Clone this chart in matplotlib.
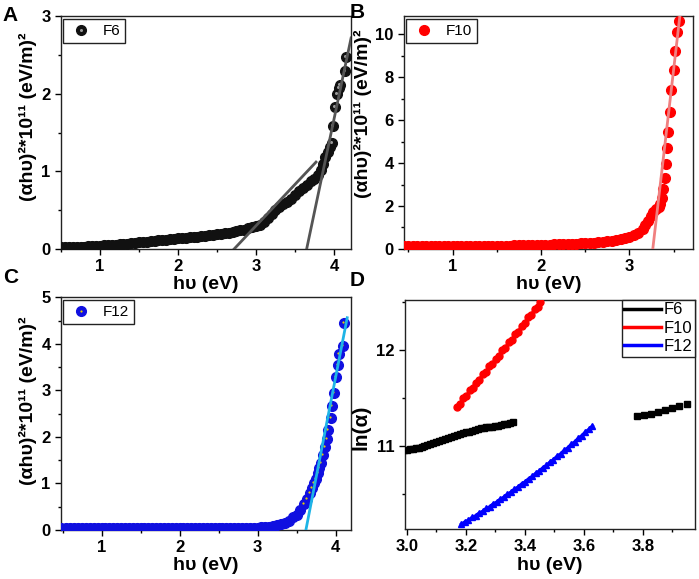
import matplotlib
matplotlib.use("Agg")
import matplotlib.pyplot as plt
from matplotlib.lines import Line2D
from matplotlib.legend_handler import HandlerTuple
from matplotlib.ticker import MultipleLocator
from matplotlib.transforms import offset_copy

plt.rcParams['font.family'] = ['Liberation Sans', 'DejaVu Sans']

# ---- panel A : F6 ----
f6_x = [0.50, 0.55, 0.60, 0.65, 0.70, 0.75, 0.80, 0.85, 0.90, 0.95,
        1.00, 1.05, 1.10, 1.15, 1.20, 1.25, 1.30, 1.35, 1.40, 1.45,
        1.50, 1.55, 1.60, 1.65, 1.70, 1.75, 1.80, 1.85, 1.90, 1.95,
        2.00, 2.05, 2.10, 2.15, 2.20, 2.25, 2.30, 2.35, 2.40, 2.45,
        2.50, 2.55, 2.60, 2.65, 2.70, 2.75, 2.80, 2.85, 2.90, 2.95,
        3.00, 3.05, 3.10, 3.15, 3.20, 3.25, 3.30, 3.35, 3.40, 3.45,
        3.50, 3.55, 3.60, 3.65, 3.70, 3.75, 3.79, 3.83, 3.86, 3.89,
        3.92, 3.95, 3.97, 3.99, 4.01, 4.04, 4.06, 4.08, 4.14, 4.16]
f6_y = [0.020, 0.020, 0.020, 0.025, 0.025, 0.030, 0.030, 0.035, 0.035, 0.040,
        0.040, 0.045, 0.050, 0.050, 0.055, 0.060, 0.065, 0.070, 0.075, 0.080,
        0.085, 0.090, 0.095, 0.100, 0.105, 0.110, 0.115, 0.120, 0.125, 0.130,
        0.135, 0.140, 0.145, 0.150, 0.155, 0.160, 0.165, 0.170, 0.175, 0.180,
        0.190, 0.195, 0.200, 0.210, 0.220, 0.230, 0.240, 0.250, 0.265, 0.280,
        0.290, 0.310, 0.350, 0.400, 0.450, 0.500, 0.540, 0.580, 0.610, 0.640,
        0.700, 0.750, 0.790, 0.830, 0.870, 0.900, 0.950, 1.020, 1.100, 1.180,
        1.250, 1.320, 1.370, 1.580, 1.830, 2.000, 2.080, 2.110, 2.300, 2.480]
f6_fit1_x = [2.72, 3.77]
f6_fit1_y = [0.0, 1.12]
f6_fit2_x = [3.65, 4.22]
f6_fit2_y = [0.0, 2.72]

# ---- panel B : F10 ----
f10_x = [0.45, 0.50, 0.55, 0.60, 0.65, 0.70, 0.75, 0.80, 0.85, 0.90, 0.95,
         1.00, 1.05, 1.10, 1.15, 1.20, 1.25, 1.30, 1.35, 1.40, 1.45,
         1.50, 1.55, 1.60, 1.65, 1.70, 1.75, 1.80, 1.85, 1.90, 1.95,
         2.00, 2.05, 2.10, 2.15, 2.20, 2.25, 2.30, 2.35, 2.40, 2.45,
         2.50, 2.55, 2.60, 2.65, 2.70, 2.75, 2.80, 2.85, 2.90, 2.95,
         3.00, 3.05, 3.10, 3.15, 3.18, 3.21, 3.24, 3.27, 3.30, 3.33,
         3.35, 3.37, 3.38, 3.405, 3.42, 3.43, 3.44, 3.46, 3.475, 3.50,
         3.52, 3.54, 3.565]
f10_y = [0.12, 0.12, 0.12, 0.12, 0.12, 0.12, 0.13, 0.13, 0.13, 0.13, 0.13,
         0.13, 0.13, 0.14, 0.14, 0.14, 0.14, 0.14, 0.15, 0.15, 0.15,
         0.15, 0.16, 0.16, 0.16, 0.17, 0.17, 0.17, 0.18, 0.18, 0.19,
         0.19, 0.20, 0.20, 0.21, 0.21, 0.22, 0.23, 0.24, 0.25, 0.26,
         0.28, 0.29, 0.30, 0.32, 0.34, 0.36, 0.38, 0.41, 0.45, 0.50,
         0.55, 0.63, 0.75, 0.92, 1.10, 1.30, 1.52, 1.72, 1.85, 1.97,
         2.10, 2.37, 2.79, 3.30, 3.95, 4.70, 5.44, 6.37, 7.40, 8.33,
         9.22, 10.09, 10.62]
f10_fit_x = [3.265, 3.57]
f10_fit_y = [0.0, 10.8]

# ---- panel C : F12 ----
f12_x = [0.48, 0.55, 0.60, 0.65, 0.70, 0.75, 0.80, 0.85, 0.90, 0.95,
         1.00, 1.05, 1.10, 1.15, 1.20, 1.25, 1.30, 1.35, 1.40, 1.45,
         1.50, 1.55, 1.60, 1.65, 1.70, 1.75, 1.80, 1.85, 1.90, 1.95,
         2.00, 2.05, 2.10, 2.15, 2.20, 2.25, 2.30, 2.35, 2.40, 2.45,
         2.50, 2.55, 2.60, 2.65, 2.70, 2.75, 2.80, 2.85, 2.90, 2.95,
         3.00, 3.05, 3.10, 3.15, 3.20, 3.25, 3.30, 3.35, 3.40, 3.45,
         3.50, 3.55, 3.60, 3.64, 3.67, 3.70, 3.73, 3.75, 3.77, 3.79,
         3.81, 3.84, 3.86, 3.89, 3.91, 3.94, 3.96, 3.98, 4.00, 4.03,
         4.04, 4.09, 4.11]
f12_y = [0.05, 0.05, 0.05, 0.05, 0.05, 0.05, 0.05, 0.05, 0.05, 0.05,
         0.05, 0.05, 0.05, 0.05, 0.05, 0.05, 0.05, 0.05, 0.05, 0.05,
         0.05, 0.05, 0.05, 0.05, 0.05, 0.05, 0.05, 0.05, 0.05, 0.05,
         0.05, 0.05, 0.05, 0.05, 0.05, 0.05, 0.05, 0.05, 0.05, 0.05,
         0.05, 0.05, 0.05, 0.05, 0.05, 0.05, 0.05, 0.05, 0.05, 0.05,
         0.05, 0.055, 0.06, 0.07, 0.08, 0.10, 0.12, 0.16, 0.20, 0.27,
         0.33, 0.42, 0.55, 0.67, 0.79, 0.90, 1.00, 1.10, 1.22, 1.33,
         1.43, 1.61, 1.79, 1.95, 2.15, 2.40, 2.67, 2.95, 3.28, 3.55,
         3.78, 3.95, 4.45]
f12_fit_x = [3.62, 4.15]
f12_fit_y = [0.0, 4.56]

# ---- panel D : ln(alpha) ----
d6_x = [2.99, 3.00, 3.01, 3.02, 3.03, 3.04, 3.05, 3.06, 3.07, 3.08,
        3.09, 3.10, 3.11, 3.12, 3.13, 3.14, 3.15, 3.16, 3.17, 3.18,
        3.19, 3.20, 3.21, 3.22, 3.23, 3.24, 3.25, 3.26, 3.27, 3.28,
        3.29, 3.30, 3.31, 3.32, 3.33, 3.34, 3.35, 3.36,
        3.781, 3.804, 3.828, 3.851, 3.876, 3.898, 3.923, 3.948]
d6_y = [10.960, 10.965, 10.970, 10.975, 10.980, 10.985, 10.990, 11.000, 11.010, 11.020,
        11.035, 11.045, 11.055, 11.065, 11.075, 11.085, 11.095, 11.105, 11.115, 11.125,
        11.135, 11.145, 11.150, 11.160, 11.170, 11.180, 11.185, 11.190, 11.195, 11.200,
        11.205, 11.210, 11.215, 11.220, 11.230, 11.235, 11.240, 11.250,
        11.310, 11.320, 11.340, 11.360, 11.380, 11.400, 11.420, 11.440]
d10_x = [3.170, 3.180, 3.191, 3.202, 3.213, 3.224, 3.235, 3.246, 3.257, 3.268,
         3.279, 3.290, 3.301, 3.312, 3.323, 3.334, 3.345, 3.356, 3.367, 3.378,
         3.389, 3.400, 3.411, 3.422, 3.433, 3.444, 3.451]
d10_y = [11.41, 11.44, 11.50, 11.52, 11.58, 11.60, 11.66, 11.69, 11.75, 11.77,
         11.83, 11.85, 11.91, 11.94, 12.00, 12.02, 12.08, 12.10, 12.17, 12.19,
         12.25, 12.28, 12.34, 12.36, 12.43, 12.45, 12.50]
d12_x = [3.185, 3.197, 3.209, 3.221, 3.233, 3.245, 3.257, 3.269, 3.281, 3.293,
         3.305, 3.317, 3.329, 3.341, 3.353, 3.365, 3.377, 3.389, 3.401, 3.413,
         3.425, 3.437, 3.449, 3.461, 3.473, 3.485, 3.497, 3.509, 3.521, 3.533,
         3.545, 3.557, 3.569, 3.581, 3.593, 3.605, 3.617, 3.629]
d12_y = [10.190, 10.215, 10.232, 10.260, 10.278, 10.306, 10.324, 10.353, 10.372, 10.402,
         10.421, 10.452, 10.472, 10.503, 10.524, 10.555, 10.577, 10.609, 10.631, 10.663,
         10.686, 10.720, 10.743, 10.777, 10.801, 10.836, 10.861, 10.896, 10.921, 10.957,
         10.983, 11.020, 11.046, 11.083, 11.111, 11.148, 11.176, 11.212]

fig = plt.figure(figsize=(6.99, 5.79), dpi=100)
ax_a = fig.add_axes([0.0873, 0.570, 0.415, 0.402])
ax_b = fig.add_axes([0.578, 0.570, 0.4134, 0.402])
ax_c = fig.add_axes([0.0873, 0.0846, 0.415, 0.402])
ax_d = fig.add_axes([0.579, 0.0864, 0.415, 0.3955])

ylab = '(αhυ)²*10¹¹ (eV/m)²'


def style(ax):
    for s in ax.spines.values():
        s.set_linewidth(1.0)
        s.set_color('#222222')
    ax.tick_params(which='major', direction='out', length=4, width=1,
                   labelsize=12, top=False, right=False)
    ax.tick_params(which='minor', direction='out', length=2.5, width=1,
                   top=False, right=False)
    for lab in ax.get_xticklabels() + ax.get_yticklabels():
        lab.set_fontweight('bold')


def spheres(ax, x, y, color, hi, ms, hs, hi_from):
    # dark ball for every point, small highlight only where points stand apart
    ax.plot(x, y, 'o', color=color, ms=ms, mec=color, zorder=3)
    hx = [a for a in x if a >= hi_from]
    hy = [b for a, b in zip(x, y) if a >= hi_from]
    tr = offset_copy(ax.transData, fig=fig, x=-1.0, y=1.0, units='dots')
    ax.plot(hx, hy, 'o', color=hi, ms=hs, mec='none', transform=tr, zorder=4)
    h1 = Line2D([], [], ls='none', marker='o', color=color, ms=ms)
    h2 = Line2D([], [], ls='none', marker='o', color=hi, ms=hs, mec='none')
    return (h1, h2)


leg_kw = dict(loc='upper left', fontsize=11, fancybox=False, edgecolor='#222222',
              framealpha=1, handlelength=1.6, handletextpad=0.6, borderaxespad=0.15,
              borderpad=0.35, handler_map={tuple: HandlerTuple(ndivide=1)})

# A
h = spheres(ax_a, f6_x, f6_y, '#111111', '#9a9a9a', 7, 2.2, 3.96)
ax_a.plot(f6_fit1_x, f6_fit1_y, color='#555555', lw=2, zorder=5)
ax_a.plot(f6_fit2_x, f6_fit2_y, color='#555555', lw=2, zorder=5)
ax_a.set_xlim(0.5, 4.22)
ax_a.set_ylim(0, 3)
ax_a.xaxis.set_major_locator(MultipleLocator(1))
ax_a.xaxis.set_minor_locator(MultipleLocator(0.5))
ax_a.yaxis.set_major_locator(MultipleLocator(1))
ax_a.yaxis.set_minor_locator(MultipleLocator(0.5))
ax_a.legend([h], ['F6'], **leg_kw)
ax_a.set_xlabel('hυ (eV)', fontsize=14, fontweight='bold', labelpad=1)
ax_a.set_ylabel(ylab, fontsize=14, fontweight='bold', labelpad=3)
ax_a.yaxis.label.set_y(0.57)

# B
ax_b.plot(f10_x, f10_y, 'o', color='#ff0000', ms=7, zorder=3)
ax_b.plot(f10_fit_x, f10_fit_y, color='#f08080', lw=2, zorder=4)
ax_b.set_xlim(0.45, 3.72)
ax_b.set_ylim(0, 10.84)
ax_b.xaxis.set_major_locator(MultipleLocator(1))
ax_b.xaxis.set_minor_locator(MultipleLocator(0.5))
ax_b.yaxis.set_major_locator(MultipleLocator(2))
ax_b.yaxis.set_minor_locator(MultipleLocator(1))
ax_b.legend([Line2D([], [], ls='none', marker='o', color='#ff0000', ms=7)], ['F10'], **leg_kw)
ax_b.set_xlabel('hυ (eV)', fontsize=14, fontweight='bold', labelpad=1)
ax_b.set_ylabel(ylab, fontsize=14, fontweight='bold', labelpad=2)
ax_b.yaxis.label.set_y(0.58)

# C
h = spheres(ax_c, f12_x, f12_y, '#1010e0', '#e8d000', 7, 1.6, 3.6)
ax_c.plot(f12_fit_x, f12_fit_y, color='#1eb4e6', lw=2, zorder=5)
ax_c.set_xlim(0.48, 4.2)
ax_c.set_ylim(0, 5)
ax_c.xaxis.set_major_locator(MultipleLocator(1))
ax_c.xaxis.set_minor_locator(MultipleLocator(0.5))
ax_c.yaxis.set_major_locator(MultipleLocator(1))
ax_c.yaxis.set_minor_locator(MultipleLocator(0.5))
ax_c.legend([h], ['F12'], **leg_kw)
ax_c.set_xlabel('hυ (eV)', fontsize=14, fontweight='bold', labelpad=1)
ax_c.set_ylabel(ylab, fontsize=14, fontweight='bold', labelpad=3)
ax_c.yaxis.label.set_y(0.555)

# D
ax_d.plot(d6_x, d6_y, 's', color='#000000', ms=4.5, zorder=3)
ax_d.plot(d10_x, d10_y, '-o', color='#ff0000', lw=2.2, ms=5, zorder=3)
ax_d.plot(d12_x, d12_y, '-^', color='#0000ff', lw=2.2, ms=5, zorder=3)
ax_d.set_xlim(2.993, 3.976)
ax_d.set_ylim(10.14, 12.52)
ax_d.xaxis.set_minor_locator(MultipleLocator(0.1))
ax_d.yaxis.set_major_locator(MultipleLocator(1))
ax_d.yaxis.set_minor_locator(MultipleLocator(0.5))
ax_d.set_xticks([3.0, 3.2, 3.4, 3.6, 3.8])
ax_d.set_xticklabels(['3.0', '3.2', '3.4', '3.6', '3.8'])
d_handles = [Line2D([], [], color=c, lw=2.5) for c in ['#000000', '#ff0000', '#0000ff']]
ax_d.legend(d_handles, ['F6', 'F10', 'F12'], loc='upper right', fontsize=12,
            fancybox=False, edgecolor='#222222', framealpha=1, handlelength=2.2,
            handletextpad=0.15, borderaxespad=0.0, borderpad=0.15, labelspacing=0.2)
ax_d.set_xlabel('hυ (eV)', fontsize=14, fontweight='bold', labelpad=2)
ax_d.set_ylabel('ln(α)', fontsize=15, fontweight='bold', labelpad=4)
ax_d.yaxis.label.set_y(0.445)

for ax in (ax_a, ax_b, ax_c, ax_d):
    style(ax)

for lab, xx, yy in [('A', 0.004, 0.974), ('B', 0.500, 0.979),
                    ('C', 0.004, 0.521), ('D', 0.500, 0.515)]:
    fig.text(xx, yy, lab, fontsize=15, fontweight='bold', va='center', ha='left')

fig.savefig('out.png', dpi=100)
